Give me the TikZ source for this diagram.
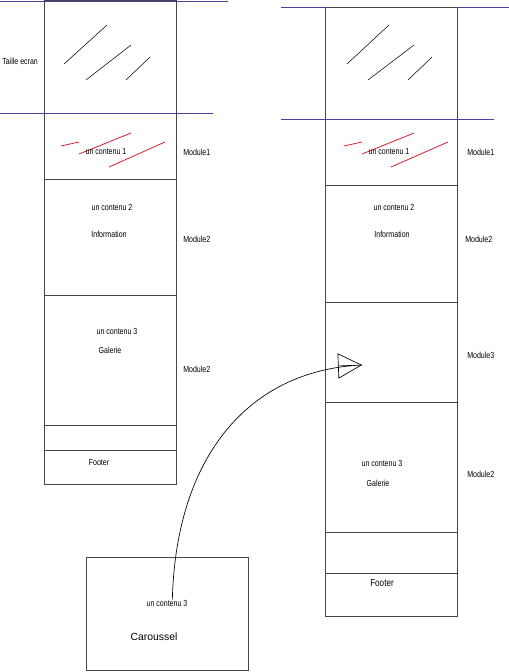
\documentclass[tikz,border=0pt]{standalone}
\usepackage{fontspec}
\setmainfont{Liberation Sans}[FakeStretch=0.8]
\newfontfamily\widefont{Liberation Sans}
\usetikzlibrary{arrows.meta}
\definecolor{bandblue}{RGB}{72,62,165}
\definecolor{scribred}{RGB}{215,30,40}
\definecolor{framegray}{RGB}{70,70,70}
\tikzset{
	lbl/.style={inner sep=0pt,font=\fontsize{6.6pt}{7pt}\selectfont},
	side/.style={lbl,anchor=west},
	frame/.style={draw=framegray,line width=.7pt},
	band/.style={draw=bandblue,line width=.6pt},
	scrib/.style={draw=scribred,line width=.6pt},
}
\begin{document}
\begin{tikzpicture}[x=.75pt,y=-.75pt]
	\useasboundingbox (0,0) rectangle (509,672);
	%\def\colw{132}
	
	% colonne gauche
	\draw[band] (0,1) -- (228,1);
	\draw[band] (0,113) -- (213,113);
	\draw[frame] (44,0) rectangle (176,484);
	\foreach \y in {179,295,425,450}
		\draw[frame] (44,\y) -- (176,\y);
	\draw (64,64) -- (107,25);
	\draw (86,80) -- (131,45);
	\draw (126,80) -- (150,57);
	\draw[scrib] (61,146) -- (79,142);
	\draw[scrib] (79,154) -- (131,133);
	\draw[scrib] (109,167) -- (165,142);
	
	\node[lbl,anchor=west] (taille) at (2,61) {Taille ecran};
	\node[lbl] (gcont1) at (106,152) {un contenu 1};
	\node[lbl] (gcont2) at (112,207) {un contenu 2};
	\node[lbl] (ginfo) at (109,234) {Information};
	\node[lbl] (gcont3) at (117,331) {un contenu 3};
	\node[lbl] (ggal) at (110,350) {Galerie};
	\node[lbl] (gfoot) at (99,463) {Footer};
	\node[side] (gmod1) at (183,152) {Module1};
	\node[side] (gmod2) at (183,239) {Module2};
	\node[side] (gmod2b) at (183,369) {Module2};
	
	% colonne droite
	\draw[band] (281,7) -- (509,7);
	\draw[band] (281,119) -- (494,119);
	\draw[frame] (325,7) rectangle (457,616);
	\foreach \y in {185,302,402,532,573}
		\draw[frame] (325,\y) -- (457,\y);
	\draw (347,64) -- (389,25);
	\draw (368,80) -- (414,45);
	\draw (408,80) -- (432,57);
	\draw[scrib] (344,146) -- (362,142);
	\draw[scrib] (362,154) -- (414,133);
	\draw[scrib] (391,167) -- (448,142);
	
	\node[lbl] (dcont1) at (389,152) {un contenu 1};
	\node[lbl] (dcont2) at (394,207) {un contenu 2};
	\node[lbl] (dinfo) at (392,234) {Information};
	\node[lbl] (dcont3) at (382,463) {un contenu 3};
	\node[lbl] (dgal) at (378,483) {Galerie};
	\node[lbl,font=\fontsize{7.6pt}{8pt}\selectfont] (dfoot) at (382,583) {Footer};
	\node[side] (dmod1) at (467,152) {Module1};
	\node[side] (dmod2) at (465,239) {Module2};
	\node[side] (dmod3) at (467,355) {Module3};
	\node[side] (dmod2b) at (467,474) {Module2};
	
	% carrousel
	\draw[frame] (86,557) rectangle (248,670);
	\node[lbl] (ccont3) at (167,603) {un contenu 3};
	\node[inner sep=0pt,font=\widefont\fontsize{7.8pt}{9pt}\selectfont] (caro) at (154,637) {Caroussel};
	
	\coordinate (tip) at (362,365);
	\coordinate (tipback) at (352,365.4);
	\draw[line width=.5pt] ([xshift=4pt]ccont3.north) .. controls (176,455) and (250,370) .. (tip);
	\draw[line width=.5pt,-{Triangle[open,length=18pt,width=19pt]}] (tipback) -- (tip);
\end{tikzpicture}
\end{document}
